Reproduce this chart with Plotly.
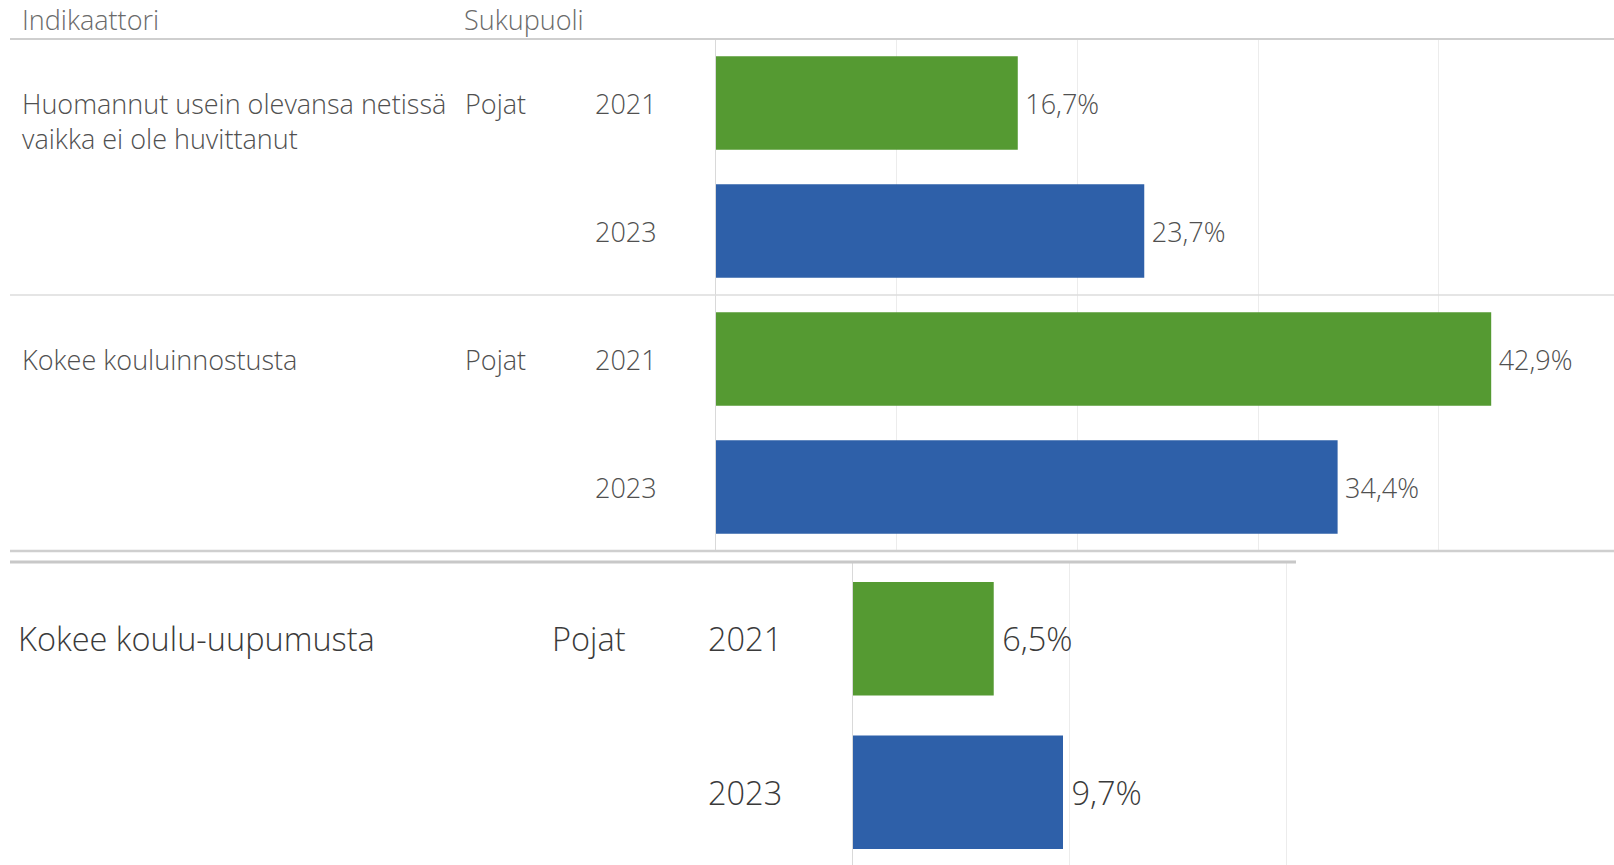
import plotly.graph_objects as go

W, H = 1614, 865

# ---- data ----
indicators = [
    "Huomannut usein olevansa netissä<br>vaikka ei ole huvittanut",
    "Kokee kouluinnostusta",
    "Kokee koulu-uupumusta",
]
gender = ["Pojat", "Pojat", "Pojat"]
years = ["2021", "2023"]
values_2021 = [16.7, 42.9, 6.5]
values_2023 = [23.7, 34.4, 9.7]
header_labels = ["Indikaattori", "Sukupuoli"]

GREEN = "#559A32"
BLUE = "#2E60A9"
TXT = "#505050"
FONT = "Open Sans"
FS_TOP = 27
FS_BOT = 32.5
WT = 300


def px(x):
    return x / W


def py(y):
    return 1 - y / H


def key(i, yr):
    return f"{i}|{yr}"


fig = go.Figure()

top_idx = [0, 1]
bot_idx = [2]
for yr, vals, col in [(years[0], values_2021, GREEN), (years[1], values_2023, BLUE)]:
    fig.add_trace(go.Bar(
        orientation="h",
        y=[key(i, yr) for i in top_idx],
        x=[vals[i] for i in top_idx],
        marker=dict(color=col, line=dict(width=0)),
        width=0.73,
        texttemplate="\u2009%{x:.1f}%",
        textposition="outside",
        constraintext="none",
        cliponaxis=False,
        textfont=dict(family=FONT, size=FS_TOP, color=TXT, weight=WT),
        xaxis="x", yaxis="y",
        hoverinfo="skip",
    ))
    fig.add_trace(go.Bar(
        orientation="h",
        y=[key(i, yr) for i in bot_idx],
        x=[vals[i] for i in bot_idx],
        marker=dict(color=col, line=dict(width=0)),
        width=0.74,
        texttemplate="\u2009%{x:.1f}%",
        textposition="outside",
        constraintext="none",
        cliponaxis=False,
        textfont=dict(family=FONT, size=FS_BOT, color="#3a3a3a", weight=WT),
        xaxis="x2", yaxis="y2",
        hoverinfo="skip",
    ))

top_cats = [key(i, yr) for i in top_idx for yr in years]
bot_cats = [key(i, yr) for i in bot_idx for yr in years]

# geometry (pixels)
TOP_AX_X = 716
TOP_Y0, TOP_Y1 = 39, 551
TOP_PXPCT = 18.07
BOT_AX_X = 853
BOT_X1 = 1296
BOT_Y0 = 562
BOT_PXPCT = 21.65
BOT_SLOT = 153.5

bot_h = H - BOT_Y0
fig.update_layout(
    width=W, height=H,
    margin=dict(l=0, r=0, t=0, b=0),
    paper_bgcolor="white", plot_bgcolor="white",
    showlegend=False,
    barmode="overlay",
    separators=", ",
    font=dict(family=FONT, color=TXT),
    xaxis=dict(domain=[px(TOP_AX_X), 1], range=[0, (W - TOP_AX_X) / TOP_PXPCT],
               showticklabels=False, showgrid=True, gridcolor="#ececec", gridwidth=1,
               dtick=10, tick0=0, zeroline=False, showline=False, fixedrange=True),
    yaxis=dict(domain=[py(TOP_Y1), py(TOP_Y0)], type="category",
               categoryorder="array", categoryarray=top_cats,
               range=[3.5, -0.5], showticklabels=False, showgrid=False,
               showline=True, linecolor="#d9d9d9", linewidth=1, ticks="",
               zeroline=False, fixedrange=True),
    xaxis2=dict(domain=[px(BOT_AX_X), px(BOT_X1)], range=[0, (BOT_X1 - BOT_AX_X) / BOT_PXPCT],
                anchor="y2",
                showticklabels=False, showgrid=True, gridcolor="#ececec", gridwidth=1,
                dtick=10, tick0=0, zeroline=False, showline=False, fixedrange=True),
    yaxis2=dict(domain=[0, py(BOT_Y0)], type="category", anchor="x2",
                categoryorder="array", categoryarray=bot_cats,
                range=[-0.5 + bot_h / BOT_SLOT, -0.5], showticklabels=False, showgrid=False,
                showline=True, linecolor="#d9d9d9", linewidth=1, ticks="",
                zeroline=False, fixedrange=True),
)

shapes = []
for yv, wd, colr in [(TOP_Y0, 2, "#cfcfcf"), (295, 1.5, "#dcdcdc"), (TOP_Y1, 2.5, "#cfcfcf")]:
    shapes.append(dict(type="line", xref="paper", yref="paper",
                       x0=px(10), x1=1, y0=py(yv), y1=py(yv),
                       line=dict(color=colr, width=wd)))
shapes.append(dict(type="line", xref="paper", yref="paper",
                   x0=px(10), x1=px(BOT_X1), y0=py(BOT_Y0), y1=py(BOT_Y0),
                   line=dict(color="#c8c8c8", width=3)))
fig.update_layout(shapes=shapes)

ann = []
hfont = dict(family=FONT, size=FS_TOP, color="#6a6a6a", weight=WT)
ann.append(dict(text=header_labels[0], x=px(20), y=py(20), xref="paper", yref="paper",
                xanchor="left", yanchor="middle", showarrow=False, font=hfont))
ann.append(dict(text=header_labels[1], x=px(462), y=py(20), xref="paper", yref="paper",
                xanchor="left", yanchor="middle", showarrow=False, font=hfont))

tfont = dict(family=FONT, size=FS_TOP, color=TXT, weight=WT)
for i in top_idx:
    multiline = "<br>" in indicators[i]
    ann.append(dict(text=indicators[i], x=px(20), y=key(i, years[0]), xref="paper", yref="y",
                    xanchor="left", yanchor="top" if multiline else "middle",
                    yshift=20 if multiline else 0, align="left", showarrow=False,
                    font=tfont))
    ann.append(dict(text=gender[i], x=px(463), y=key(i, years[0]), xref="paper", yref="y",
                    xanchor="left", yanchor="middle", showarrow=False, font=tfont))
    for yr in years:
        ann.append(dict(text=yr, x=px(593), y=key(i, yr), xref="paper", yref="y",
                        xanchor="left", yanchor="middle", showarrow=False, font=tfont))

bfont = dict(family=FONT, size=FS_BOT, color="#3a3a3a", weight=WT)
for i in bot_idx:
    ann.append(dict(text=indicators[i], x=px(16), y=key(i, years[0]), xref="paper", yref="y2",
                    xanchor="left", yanchor="middle", showarrow=False, font=bfont))
    ann.append(dict(text=gender[i], x=px(550), y=key(i, years[0]), xref="paper", yref="y2",
                    xanchor="left", yanchor="middle", showarrow=False, font=bfont))
    for yr in years:
        ann.append(dict(text=yr, x=px(706), y=key(i, yr), xref="paper", yref="y2",
                        xanchor="left", yanchor="middle", showarrow=False, font=bfont))

fig.update_layout(annotations=ann)

fig.write_html("out.html", config={"displayModeBar": False})
